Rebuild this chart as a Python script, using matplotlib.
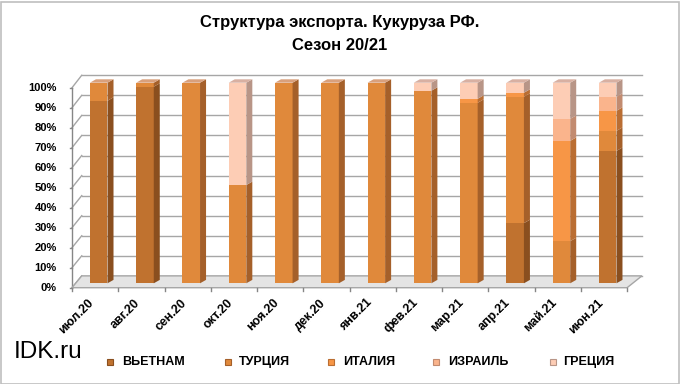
import matplotlib
matplotlib.use("Agg")
import matplotlib.pyplot as plt
from matplotlib.patches import Polygon, Rectangle
from matplotlib import font_manager
import numpy as np

months = ['июл.20', 'авг.20', 'сен.20', 'окт.20', 'ноя.20', 'дек.20',
          'янв.21', 'фев.21', 'мар.21', 'апр.21', 'май.21', 'июн.21']
series_names = ['ВЬЕТНАМ', 'ТУРЦИЯ', 'ИТАЛИЯ', 'ИЗРАИЛЬ', 'ГРЕЦИЯ']
vietnam = [91, 98, 0, 0, 0, 0, 0, 0, 0, 30, 0, 66]
turkey = [9, 2, 100, 49, 100, 100, 100, 96, 90, 63, 21, 10]
italy = [0, 0, 0, 0, 0, 0, 0, 0, 2, 2, 50, 10]
israel = [0, 0, 0, 0, 0, 0, 0, 0, 0, 0, 11, 7]
greece = [0, 0, 0, 51, 0, 0, 0, 4, 8, 5, 18, 7]
yticks = [0, 10, 20, 30, 40, 50, 60, 70, 80, 90, 100]

series = [vietnam, turkey, italy, israel, greece]
front_c = ['#C0722F', '#E0893B', '#F79646', '#FAB48C', '#FDCDB5']
side_c = ['#8A4F1F', '#A5602A', '#BA6E33', '#C28B70', '#B89587']
top_c = ['#C88A62', '#D9A07C', '#E6A880', '#DDB09A', '#D8B0A2']

W, H = 680, 384
fig = plt.figure(figsize=(W / 100, H / 100), dpi=100)
fig.patch.set_facecolor('white')
plt.rcParams['font.family'] = ['Liberation Sans', 'DejaVu Sans']
installed = {f.name for f in font_manager.fontManager.ttflist}
has_narrow = 'Liberation Sans Narrow' in installed
narrow = ['Liberation Sans Narrow', 'Liberation Sans', 'DejaVu Sans']

# pixel mapping: x px = 98.7 + 46.27*cat ; y px(img) = 283.3 - 2.006*v
sx, ox = 46.27, 98.7
sy, oy = 2.006, 283.3
L, R, T, B = 20, 670, 60, 310
ax = fig.add_axes([L / W, 1 - B / H, (R - L) / W, (B - T) / H])
ax.set_xlim((L - ox) / sx, (R - ox) / sx)
ax.set_ylim((oy - B) / sy, (oy - T) / sy)
ax.axis('off')

front_off = -2.2
back_off = 3.7
xf_l, xb_l = -0.577, -0.367
xf_r, xb_r = 11.42, 11.74
grid_c = '#A6A6A6'

# back wall gridlines and left wall diagonals
for v in yticks:
    ax.plot([xb_l, xb_r], [v + back_off, v + back_off], color=grid_c, lw=1.0, zorder=1)
    ax.plot([xf_l, xb_l], [v * 0.997 + front_off, v + back_off], color=grid_c, lw=1.0, zorder=1)
    ax.plot([xf_l - 0.05, xf_l], [v * 0.997 + front_off] * 2, color='#868686', lw=1.0, zorder=1)
    ax.text(xf_l - 0.33, v * 0.997 + front_off, f'{v}%', ha='right', va='center',
            fontsize=8, fontweight='bold')
# front y axis
ax.plot([xf_l, xf_l], [front_off, 100 * 0.997 + front_off], color='#868686', lw=1.0, zorder=1)

# floor
floor = Polygon([[xf_l, front_off], [xf_r, front_off], [xb_r, back_off], [xb_l, back_off]],
                closed=True, facecolor='#E4E4E4', edgecolor='#A6A6A6', lw=1.0, zorder=2)
ax.add_patch(floor)
# x axis ticks at front edge
for i in range(len(months) + 1):
    xt = i - 0.5 - 0.077
    ax.plot([xt, xt], [front_off, front_off - 1.6], color='#868686', lw=1.0, zorder=2)

# bars (3D look)
x = np.arange(len(months))
bw = 0.38
dx, dy = 0.13, 1.7
bottom = np.zeros(len(months))
for k, vals in enumerate(series):
    vals = np.array(vals, dtype=float)
    ax.bar(x, vals, bw, bottom=bottom, color=front_c[k], edgecolor='none', zorder=3)
    for i in range(len(months)):
        if vals[i] <= 0:
            continue
        b, t = bottom[i], bottom[i] + vals[i]
        r = x[i] + bw / 2
        side = Polygon([[r, b], [r + dx, b + dy], [r + dx, t + dy], [r, t]], closed=True,
                       facecolor=side_c[k], edgecolor='none', zorder=3)
        ax.add_patch(side)
    bottom = bottom + vals

# top faces
for i in range(len(months)):
    top_k = max(k for k in range(len(series)) if series[k][i] > 0)
    t = bottom[i]
    l, r = x[i] - bw / 2, x[i] + bw / 2
    top = Polygon([[l, t], [r, t], [r + dx, t + dy], [l + dx, t + dy]], closed=True,
                  facecolor=top_c[top_k], edgecolor='none', zorder=4)
    ax.add_patch(top)

# x tick labels
for i, m in enumerate(months):
    ax.text(i - 0.14, -8.8, m, rotation=45, ha='right', va='center', rotation_mode='anchor',
            fontsize=9, fontweight='bold')

# title
fig.text(0.5, 1 - 23 / H, 'Структура экспорта. Кукуруза РФ.', ha='center', va='center',
         fontsize=12, fontweight='bold')
fig.text(0.5, 1 - 45 / H, 'Сезон 20/21', ha='center', va='center',
         fontsize=12, fontweight='bold')

# watermark
fig.text(14 / W, 1 - 352 / H, 'IDK.ru', ha='left', va='center',
         fontsize=20 if has_narrow else 17.5, family=narrow)

# legend
leg_sq = [110, 228, 331, 436, 553]
leg_tx = [122, 239, 343, 448, 563]
leg_y = 362
for k, name in enumerate(series_names):
    s = 6
    fig.patches.append(Rectangle(((leg_sq[k] - s / 2) / W, 1 - (leg_y + s / 2) / H), s / W, s / H,
                                 transform=fig.transFigure, facecolor=front_c[k],
                                 edgecolor=side_c[k], lw=0.8))
    fig.text(leg_tx[k] / W, 1 - leg_y / H, name, ha='left', va='center',
             fontsize=10.5 if has_narrow else 9, fontweight='bold', family=narrow)

# outer border
fig.patches.append(Rectangle((0.5 / W, 0.5 / H), 1 - 2 / W, 1 - 2 / H, transform=fig.transFigure,
                             fill=False, edgecolor='#BFBFBF', lw=1.2))

fig.savefig('out.png', dpi=100)
